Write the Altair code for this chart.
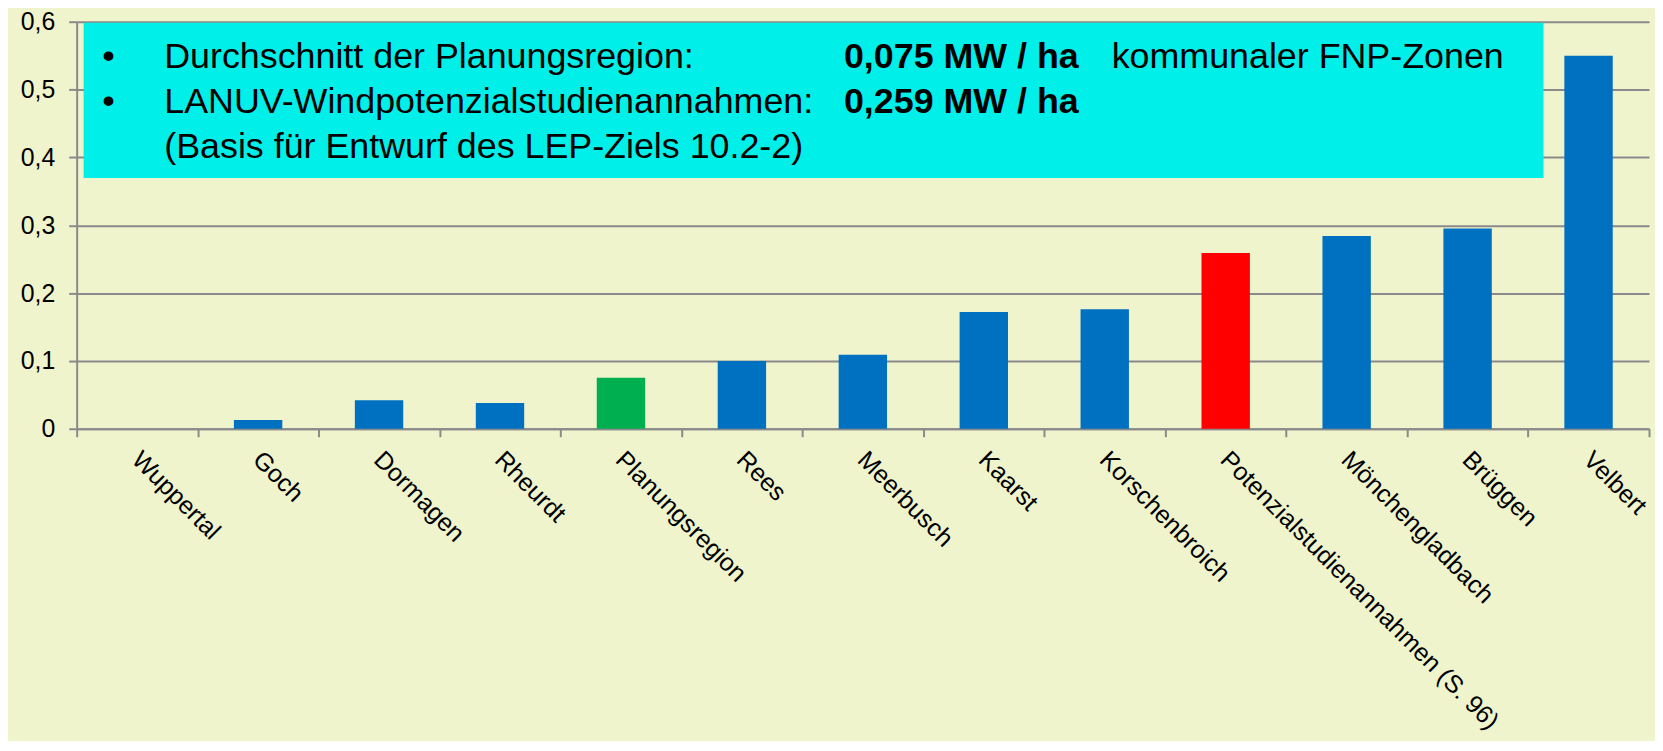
import altair as alt
import pandas as pd

# ---- data ----
kategorien = ["Wuppertal", "Goch", "Dormagen", "Rheurdt", "Planungsregion", "Rees",
              "Meerbusch", "Kaarst", "Korschenbroich",
              "Potenzialstudienannahmen (S. 96)", "Mönchengladbach", "Brüggen", "Velbert"]
werte = [0.0, 0.013, 0.042, 0.038, 0.075, 0.100, 0.109, 0.172, 0.176, 0.259, 0.284, 0.295, 0.550]
gruppen = ["Kommune", "Kommune", "Kommune", "Kommune", "Planungsregion", "Kommune",
           "Kommune", "Kommune", "Kommune", "Potenzialstudie", "Kommune", "Kommune", "Kommune"]
gruppen_domain = ["Kommune", "Planungsregion", "Potenzialstudie"]
gruppen_farben = ["#0070C0", "#00B050", "#FF0000"]
y_ticks = [0, 0.1, 0.2, 0.3, 0.4, 0.5, 0.6]

zeile1_normal = "Durchschnitt der Planungsregion:"
zeile1_fett = "0,075 MW / ha"
zeile1_rest = "kommunaler FNP-Zonen"
zeile2_normal = "LANUV-Windpotenzialstudienannahmen:"
zeile2_fett = "0,259 MW / ha"
zeile3 = "(Basis für Entwurf des LEP-Ziels 10.2-2)"

df = pd.DataFrame({"Kategorie": kategorien, "Wert": werte, "Gruppe": gruppen})

W, H = 1580, 409
FONT = "Liberation Sans"
GRAU = "#8A8A8A"
BG = "#EFF4CD"
FS = 36

bars = alt.Chart(df).mark_bar(width=alt.RelativeBandSize(0.4)).encode(
    x=alt.X("Kategorie:N", sort=kategorien,
            scale=alt.Scale(paddingInner=0, paddingOuter=0),
            axis=alt.Axis(title=None, labelAngle=45, labelAlign="left", labelBaseline="top",
                          labelFontSize=25, labelFont=FONT, labelColor="black",
                          labelPadding=10, labelOffset=7, tickBand="extent", tickSize=8,
                          tickColor=GRAU, tickWidth=2, domainColor=GRAU, domainWidth=2,
                          labelOverlap=False, labelLimit=0, grid=False)),
    y=alt.Y("Wert:Q", scale=alt.Scale(domain=[0, 0.6], nice=False),
            axis=alt.Axis(title=None, values=y_ticks,
                          labelExpr="datum.value == 0 ? '0' : replace(format(datum.value, '.1f'), '.', ',')",
                          labelFontSize=25, labelFont=FONT, labelColor="black", labelPadding=14,
                          tickSize=8, tickColor=GRAU, tickWidth=2,
                          domainColor=GRAU, domainWidth=2,
                          grid=True, gridColor=GRAU, gridWidth=2)),
    color=alt.Color("Gruppe:N", scale=alt.Scale(domain=gruppen_domain, range=gruppen_farben),
                    legend=None),
)

one = pd.DataFrame({"d": [0]})

box = alt.Chart(one).mark_rect(color="#00EFE8").encode(
    x=alt.value(7), x2=alt.value(1474), y=alt.value(1), y2=alt.value(157)
)

def txt(s, x, y, bold=False, align="left"):
    return alt.Chart(one).mark_text(
        text=s, font=FONT, fontSize=FS, fontWeight="bold" if bold else "normal",
        align=align, baseline="alphabetic", color="black"
    ).encode(x=alt.value(x), y=alt.value(y))

texts = [
    txt("•", 32, 46.7, align="center"),
    txt("•", 32, 91.7, align="center"),
    txt(zeile1_normal, 88, 46.7),
    txt(zeile1_fett, 771, 46.7, bold=True),
    txt(zeile1_rest, 1434, 46.7, align="right"),
    txt(zeile2_normal, 88, 91.7),
    txt(zeile2_fett, 771, 91.7, bold=True),
    txt(zeile3, 88, 136.7),
]

chart = alt.layer(bars, box, *texts).properties(
    width=W, height=H,
    background=BG,
    padding={"left": 69, "top": 12, "right": 6, "bottom": 312},
    autosize=alt.AutoSizeParams(type="none"),
).configure_view(stroke=None)

chart.save("out.html", embed_options={"renderer": "svg", "actions": False})
